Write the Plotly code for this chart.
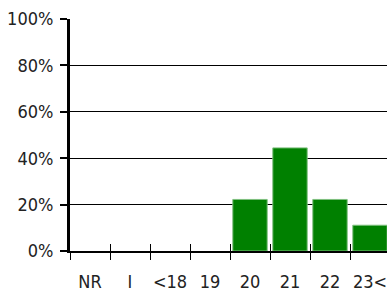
import plotly.graph_objects as go

categories = ["NR", "I", "<18", "19", "20", "21", "22", "23<"]
shares = [0, 0, 0, 0, 2/9, 4/9, 2/9, 1/9]
y_ticks = [0, 0.2, 0.4, 0.6, 0.8, 1.0]

FONT = "DejaVu Sans Condensed, Liberation Sans Narrow, Arial Narrow, sans-serif"

fig = go.Figure()
fig.add_trace(go.Bar(
    x=categories, y=shares,
    marker=dict(color="#008000",
                line=dict(color="#7fc07f", width=[1 if v > 0 else 0 for v in shares])),
    width=0.86,
))
# overlay axis to draw the inner half of the crossing x ticks
fig.add_trace(go.Scatter(x=categories, y=[None]*len(categories), xaxis="x2",
                         showlegend=False, hoverinfo="skip"))

fig.update_layout(
    width=387, height=295,
    margin=dict(l=70, r=0, t=19, b=44),
    paper_bgcolor="white", plot_bgcolor="white",
    showlegend=False,
    font=dict(family=FONT, size=18, color="#222"),
    bargap=0.14,
    xaxis=dict(
        type="category", range=[-0.5, 7.425],
        showline=True, linecolor="black", linewidth=1.5,
        ticks="outside", ticklen=7, tickcolor="black", tickwidth=1,
        tickson="boundaries", showgrid=False, tickangle=0,
        ticklabelstandoff=14, automargin=False,
    ),
    xaxis2=dict(
        type="category", range=[-0.5, 7.425], overlaying="x",
        anchor="y",
        ticks="inside", ticklen=7, tickcolor="black", tickwidth=1,
        tickson="boundaries", showticklabels=False, showgrid=False,
        showline=False, automargin=False,
    ),
    yaxis=dict(
        range=[0, 1.0], tickvals=y_ticks, tickformat=".0%",
        showline=True, linecolor="black", linewidth=3,
        ticks="outside", ticklen=7, tickcolor="black", tickwidth=2,
        showgrid=True, gridcolor="black", gridwidth=1,
        zeroline=False, automargin=False, ticklabelstandoff=3,
    ),
)

fig.write_html(
    "out.html",
    config={"displayModeBar": False},
    post_script="document.body.style.margin='0';document.body.style.overflow='hidden';",
)
